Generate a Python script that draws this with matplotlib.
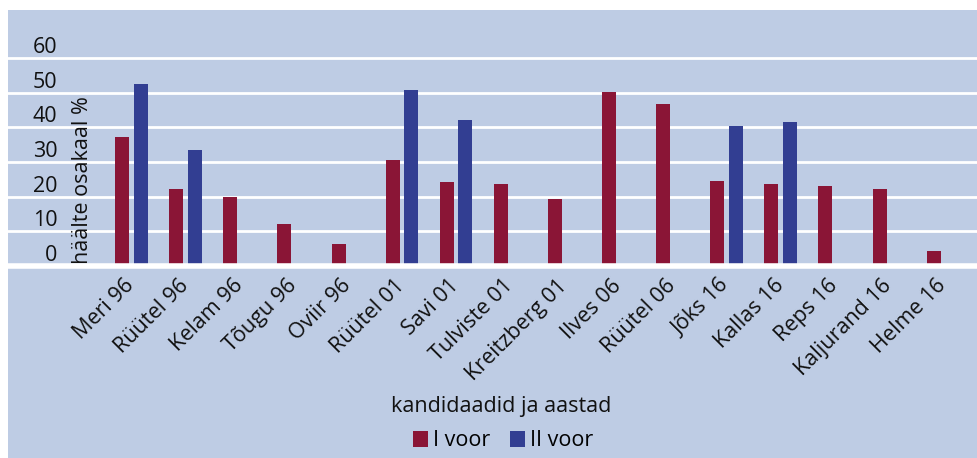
import matplotlib
matplotlib.use("Agg")
import matplotlib.pyplot as plt
import numpy as np
from matplotlib.patches import Rectangle

candidates = ["Meri 96", "Rüütel 96", "Kelam 96", "Tõugu 96", "Oviir 96",
              "Rüütel 01", "Savi 01", "Tulviste 01", "Kreitzberg 01",
              "Ilves 06", "Rüütel 06", "Jõks 16", "Kallas 16", "Reps 16",
              "Kaljurand 16", "Helme 16"]
round1 = [37.2, 22.3, 19.9, 12.0, 6.2, 30.6, 24.1, 23.7, 19.3, 50.3, 46.8,
          24.4, 23.7, 23.2, 22.1, 4.2]
round2 = [52.6, 33.5, np.nan, np.nan, np.nan, 50.6, 42.1, np.nan, np.nan,
          np.nan, np.nan, 40.3, 41.4, np.nan, np.nan, np.nan]
yticks = [0, 10, 20, 30, 40, 50, 60]
series_names = ["I voor", "II voor"]

BG = "#BECCE4"
RED = "#8A1536"
BLUE = "#323E92"
TXT = "#111111"
FS = 15.5

plt.rcParams['font.family'] = ['Open Sans', 'DejaVu Sans']

W, H = 978, 458
fig = plt.figure(figsize=(W / 100, H / 100), dpi=100, facecolor="white")
fig.patches.append(Rectangle((8 / W, 0), 1 - 8 / W, 1 - 10 / H,
                             transform=fig.transFigure, facecolor=BG,
                             edgecolor="none", zorder=-10))

ax = fig.add_axes([8 / W, 1 - 266 / H, 1 - 8 / W, (266 - 10) / H])
ax.set_zorder(1)
ax.set_facecolor(BG)
for s in ax.spines.values():
    s.set_visible(False)

x = np.arange(len(candidates))
bw = 0.26
off = 0.17
ax.bar(x - off, round1, width=bw, color=RED, label=series_names[0], zorder=3)
ax.bar(x + off, round2, width=bw, color=BLUE, label=series_names[1], zorder=3)

ax.set_xlim(-2.28, 15.65)
ax.set_ylim(0, 73.8)
ax.set_yticks(yticks)
ax.yaxis.grid(True, color="white", linewidth=2.0)
ax.set_axisbelow(True)
ax.axhline(0, color="white", linewidth=4, zorder=4, clip_on=False)

ax.tick_params(axis='y', length=0, pad=-35.5, labelsize=FS, labelcolor=TXT)
for lab in ax.get_yticklabels():
    lab.set_horizontalalignment('right')
    lab.set_verticalalignment('bottom')

ax.set_xticks(x)
ax.set_xticklabels(candidates, rotation=45, ha='right', va='center',
                   rotation_mode='anchor', fontsize=FS, color=TXT)
ax.tick_params(axis='x', length=0, pad=12)

ax.set_ylabel("häälte osakaal %", fontsize=FS, color=TXT)
ax.yaxis.set_label_coords(0.0876, 0.336)

ax.set_xlabel("kandidaadid ja aastad", fontsize=FS, color=TXT)
ax.xaxis.set_label_coords(0.508, -0.507)

leg = fig.legend(loc='center', bbox_to_anchor=(503 / W, 1 - 441 / H), ncol=2,
                 frameon=False, fontsize=FS, handlelength=0.7,
                 handleheight=0.7, handletextpad=0.25, columnspacing=0.9)

fig.savefig("out.png", dpi=100, facecolor="white")
